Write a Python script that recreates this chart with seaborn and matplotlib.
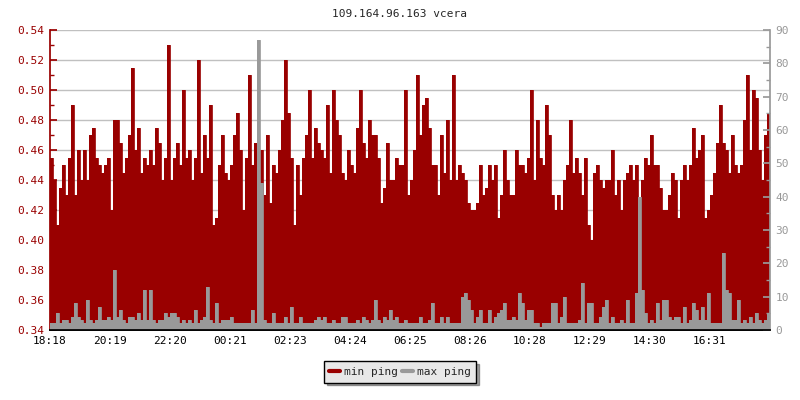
import numpy as np
import pandas as pd
import matplotlib
matplotlib.use("Agg")
import matplotlib.pyplot as plt
import seaborn as sns
from matplotlib.ticker import MultipleLocator

# =============================
# DATA (~6 min per sample)
# =============================
time_labels = ["18:18", "20:19", "22:20", "00:21", "02:23", "04:24",
               "06:25", "08:26", "10:28", "12:29", "14:30", "16:31"]

min_ping = [
    # 18:18 - 21:18
    0.455, 0.44, 0.41, 0.435, 0.45, 0.43, 0.455, 0.49, 0.43, 0.46,
    0.44, 0.46, 0.44, 0.47, 0.475, 0.455, 0.45, 0.445, 0.45, 0.455,
    0.42, 0.48, 0.48, 0.465, 0.445, 0.455, 0.47, 0.515, 0.46, 0.475,
    # 21:18 - 00:18
    0.445, 0.455, 0.45, 0.46, 0.45, 0.475, 0.465, 0.44, 0.455, 0.53,
    0.44, 0.455, 0.465, 0.45, 0.50, 0.455, 0.46, 0.44, 0.455, 0.52,
    0.445, 0.47, 0.455, 0.49, 0.41, 0.415, 0.45, 0.47, 0.445, 0.44,
    # 00:18 - 03:18
    0.45, 0.47, 0.485, 0.46, 0.42, 0.455, 0.51, 0.45, 0.465, 0.45,
    0.46, 0.43, 0.47, 0.425, 0.45, 0.445, 0.46, 0.48, 0.52, 0.485,
    0.455, 0.41, 0.45, 0.43, 0.455, 0.47, 0.50, 0.455, 0.475, 0.465,
    # 03:18 - 06:18
    0.46, 0.455, 0.49, 0.445, 0.50, 0.48, 0.47, 0.445, 0.44, 0.46,
    0.45, 0.445, 0.475, 0.50, 0.465, 0.455, 0.48, 0.47, 0.47, 0.455,
    0.425, 0.435, 0.465, 0.44, 0.44, 0.455, 0.45, 0.45, 0.50, 0.43,
    # 06:18 - 09:18
    0.44, 0.46, 0.51, 0.47, 0.49, 0.495, 0.475, 0.45, 0.45, 0.43,
    0.47, 0.445, 0.48, 0.44, 0.51, 0.44, 0.45, 0.445, 0.44, 0.425,
    0.42, 0.42, 0.425, 0.45, 0.43, 0.435, 0.45, 0.44, 0.45, 0.415,
    # 09:18 - 12:18
    0.43, 0.46, 0.44, 0.43, 0.43, 0.46, 0.45, 0.45, 0.445, 0.455,
    0.50, 0.44, 0.48, 0.455, 0.45, 0.49, 0.47, 0.43, 0.42, 0.43,
    0.42, 0.44, 0.45, 0.48, 0.445, 0.455, 0.445, 0.43, 0.455, 0.41,
    # 12:18 - 15:18
    0.40, 0.445, 0.45, 0.44, 0.435, 0.44, 0.44, 0.46, 0.43, 0.44,
    0.42, 0.44, 0.445, 0.45, 0.44, 0.45, 0.425, 0.44, 0.455, 0.45,
    0.47, 0.45, 0.45, 0.435, 0.42, 0.42, 0.43, 0.445, 0.44, 0.415,
    # 15:18 - 18:18
    0.44, 0.45, 0.44, 0.45, 0.475, 0.455, 0.46, 0.47, 0.415, 0.42,
    0.43, 0.445, 0.465, 0.49, 0.465, 0.46, 0.445, 0.47, 0.45, 0.445,
    0.45, 0.48, 0.51, 0.46, 0.50, 0.495, 0.46, 0.44, 0.47, 0.485,
]

max_ping = [
    2, 2, 5, 2, 3, 3, 2, 4, 8, 4, 3, 2, 9, 3, 2, 3, 7, 3, 3, 4, 3, 18, 4, 6, 3, 2, 4, 4, 3, 5,
    3, 12, 3, 12, 3, 2, 3, 3, 5, 4, 5, 5, 4, 2, 3, 2, 3, 2, 6, 2, 3, 4, 13, 3, 2, 8, 2, 3, 3, 3,
    4, 2, 2, 2, 2, 2, 2, 6, 2, 87, 44, 3, 2, 2, 5, 2, 2, 2, 4, 2, 7, 2, 2, 4, 2, 2, 2, 2, 3, 4,
    3, 4, 2, 2, 3, 2, 2, 4, 4, 2, 2, 2, 3, 2, 4, 3, 2, 3, 9, 3, 2, 4, 3, 6, 3, 4, 2, 2, 3, 2,
    2, 2, 2, 4, 2, 2, 3, 8, 2, 2, 4, 2, 4, 2, 2, 2, 2, 10, 11, 9, 6, 2, 4, 6, 2, 2, 6, 2, 4, 5,
    6, 8, 3, 3, 4, 3, 11, 8, 3, 6, 6, 2, 2, 1, 2, 2, 2, 8, 8, 2, 4, 10, 2, 2, 2, 2, 3, 14, 2, 8,
    8, 2, 2, 4, 7, 9, 2, 4, 2, 2, 3, 2, 9, 2, 2, 11, 40, 12, 5, 2, 3, 2, 8, 3, 9, 9, 4, 3, 4, 4,
    2, 7, 2, 3, 8, 6, 3, 7, 3, 11, 2, 2, 2, 2, 23, 12, 11, 3, 3, 9, 2, 3, 2, 4, 2, 5, 3, 2, 3, 5,
]

RED = "#990000"
GREY = "#999999"

df = pd.DataFrame({"t": np.arange(len(min_ping)), "min_ping": min_ping, "max_ping": max_ping})
# extra point so the last step is drawn full width
df_step = pd.concat([df, df.tail(1).assign(t=len(df))], ignore_index=True)

# =============================
# FIGURE
# =============================
sns.set_theme(style="white")
plt.rcParams["font.family"] = ["DejaVu Sans Mono", "DejaVu Sans"]

fig = plt.figure(figsize=(8, 4), dpi=100)
ax = fig.add_axes([0.0625, 0.175, 0.9, 0.75])
ax2 = ax.twinx()

# min ping (left axis), filled from the bottom
ax.fill_between(df_step["t"], 0.34, df_step["min_ping"], step="post", color=RED, lw=0, zorder=2)
sns.lineplot(data=df_step, x="t", y="min_ping", ax=ax, color=RED, lw=0.6,
             drawstyle="steps-post", zorder=3)

# max ping (right axis)
ax2.fill_between(df_step["t"], 0, df_step["max_ping"], step="post", color=GREY, lw=0, zorder=2)
sns.lineplot(data=df_step, x="t", y="max_ping", ax=ax2, color=GREY, lw=0.6,
             drawstyle="steps-post", zorder=3)

ax.set_xlim(0, len(df))
ax.set_ylim(0.34, 0.54)
ax2.set_ylim(0, 90)

ax.set_xticks(np.arange(len(time_labels)) * 20)
ax.set_xticklabels(time_labels)
ax.yaxis.set_major_locator(MultipleLocator(0.02))
ax.yaxis.set_minor_locator(MultipleLocator(0.01))
ax.yaxis.set_major_formatter(matplotlib.ticker.FormatStrFormatter("%.2f"))
ax2.yaxis.set_major_locator(MultipleLocator(10))
ax2.yaxis.set_minor_locator(MultipleLocator(5))

ax.set_xlabel("")
ax.set_ylabel("")
ax2.set_xlabel("")
ax2.set_ylabel("")

ax.grid(axis="y", color="#c0c0c0", lw=1, zorder=0)
ax.set_axisbelow(True)

for a in (ax, ax2):
    a.spines["top"].set_visible(False)
ax.spines["left"].set_color(RED)
ax.spines["right"].set_visible(False)
ax2.spines["left"].set_visible(False)
ax2.spines["right"].set_color(GREY)
ax2.spines["bottom"].set_color("black")
ax.spines["bottom"].set_color("black")
ax.spines["bottom"].set_linewidth(1.2)

ax.tick_params(axis="x", direction="inout", length=5, width=1, colors="black", labelsize=8, pad=2)
ax.tick_params(axis="y", which="major", direction="in", length=5, color=RED, labelcolor=RED, labelsize=8, pad=4)
ax.tick_params(axis="y", which="minor", direction="in", length=3, color=RED, left=True)
ax2.tick_params(axis="y", which="major", direction="in", length=5, color=GREY, labelcolor=GREY, labelsize=8, pad=4)
ax2.tick_params(axis="y", which="minor", direction="in", length=3, color=GREY, right=True)

fig.text(0.5, 0.965, "109.164.96.163 vcera", ha="center", va="center", fontsize=8)

handles = [plt.Line2D([], [], color=RED, lw=3), plt.Line2D([], [], color=GREY, lw=3)]
leg = fig.legend(handles, ["min ping", "max ping"], loc="center", bbox_to_anchor=(0.5, 0.07),
                 ncol=2, frameon=True, fancybox=False, shadow=True, fontsize=8,
                 handlelength=1.0, handletextpad=0.3, columnspacing=0.4, borderpad=0.5)
leg.get_frame().set_facecolor("#e8e8e8")
leg.get_frame().set_edgecolor("black")
leg.get_frame().set_linewidth(1)
leg.get_frame().set_alpha(1)
if ax.get_legend() is not None:
    ax.get_legend().remove()

plt.savefig("out.png", dpi=100)
plt.close()
